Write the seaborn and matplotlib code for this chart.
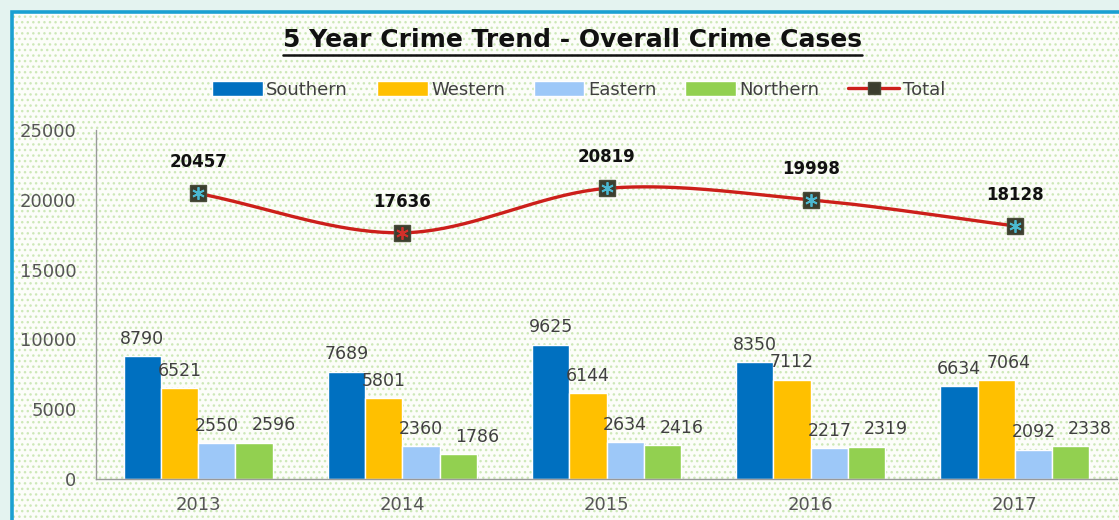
import numpy as np
import pandas as pd
import matplotlib
matplotlib.use("Agg")
import matplotlib.pyplot as plt
import matplotlib.patches as mpatches
from matplotlib.lines import Line2D
import seaborn as sns

years = ["2013", "2014", "2015", "2016", "2017"]
regions = ["Southern", "Western", "Eastern", "Northern"]
southern = [8790, 7689, 9625, 8350, 6634]
western = [6521, 5801, 6144, 7112, 7064]
eastern = [2550, 2360, 2634, 2217, 2092]
northern = [2596, 1786, 2416, 2319, 2338]
total = [20457, 17636, 20819, 19998, 18128]

colors = {"Southern": "#0070c0", "Western": "#ffc000",
          "Eastern": "#9dc8f8", "Northern": "#92d050"}

df = pd.DataFrame({
    "year": years * 4,
    "region": np.repeat(regions, len(years)),
    "cases": southern + western + eastern + northern,
})


def catmull_rom(x, y, n=40):
    # smooth curve through the points, like Excel's smoothed line
    x = np.asarray(x, float)
    y = np.asarray(y, float)
    px = np.concatenate([[2 * x[0] - x[1]], x, [2 * x[-1] - x[-2]]])
    py = np.concatenate([[2 * y[0] - y[1]], y, [2 * y[-1] - y[-2]]])
    xs, ys = [], []
    for i in range(1, len(px) - 2):
        t = np.linspace(0, 1, n)
        for p, out in ((px, xs), (py, ys)):
            p0, p1, p2, p3 = p[i - 1], p[i], p[i + 1], p[i + 2]
            out.append(0.5 * ((2 * p1) + (-p0 + p2) * t
                              + (2 * p0 - 5 * p1 + 4 * p2 - p3) * t ** 2
                              + (-p0 + 3 * p1 - 3 * p2 + p3) * t ** 3))
    return np.concatenate(xs), np.concatenate(ys)


sns.set_style("white")
plt.rcParams["font.family"] = ["DejaVu Sans"]

fig = plt.figure(figsize=(11.19, 5.2), dpi=100)
fig.patch.set_facecolor("#e4f3f0")

# dotted panel and blue frame
panel = mpatches.Rectangle((12 / 1119, 0), 1.0, 1 - 12 / 520, transform=fig.transFigure,
                           facecolor="#fcfdf9", edgecolor="#cde8b8", hatch="...",
                           linewidth=0, zorder=0)
fig.add_artist(panel)
frame = mpatches.Rectangle((12 / 1119, -0.05), 1.05, 1.05 - 12 / 520, transform=fig.transFigure,
                           facecolor="none", edgecolor="#1aa0d2", linewidth=2.6, zorder=1)
fig.add_artist(frame)

ax = fig.add_axes([96 / 1119, 41 / 520, 1021 / 1119, 349 / 520])
ax.set_facecolor("none")

sns.barplot(data=df, x="year", y="cases", hue="region", palette=colors,
            width=0.73, saturation=1, errorbar=None, ax=ax, legend=False, zorder=2)

for i, cont in enumerate(ax.containers):
    labels = ax.bar_label(cont, fmt="%d", padding=6, fontsize=12.5, color="#404040")
    if i == 3:
        # Northern labels sit a little to the right, as in the original
        for lab in labels:
            lab.xyann = (14, 6)
    if i == 1:
        # 2017 Western label nudged right to clear the Southern one
        labels[-1].xyann = (9, 6)

xs = np.arange(len(years))
cx, cy = catmull_rom(xs, total)
ax.plot(cx, cy, color="#cc1f1a", linewidth=2.4, zorder=3)
ax.plot(xs, total, linestyle="none", marker="s", markersize=11,
        markerfacecolor="#3b3d2e", markeredgecolor="#4a4d3a", zorder=4)
star_colors = ["#4bb8d0", "#d0302a", "#4bb8d0", "#4bb8d0", "#4bb8d0"]
for x, t, c in zip(xs, total, star_colors):
    ax.plot(x, t, linestyle="none", marker=(6, 2, 0), markersize=9,
            markeredgecolor=c, markeredgewidth=1.3, zorder=5)
    ax.annotate(f"{t}", (x, t), xytext=(0, 16), textcoords="offset points",
                ha="center", va="bottom", fontsize=12, fontweight="bold", color="#111111")

ax.set_ylim(0, 25000)
ax.set_xlim(-0.5, 4.5)
ax.set_yticks(range(0, 25001, 5000))
ax.set_xlabel("")
ax.set_ylabel("")
ax.tick_params(axis="y", length=0, pad=14, labelsize=13, labelcolor="#555555")
ax.tick_params(axis="x", length=0, pad=12, labelsize=13, labelcolor="#555555")
for s in ["top", "right"]:
    ax.spines[s].set_visible(False)
for s in ["left", "bottom"]:
    ax.spines[s].set_color("#9a9a9a")
    ax.spines[s].set_linewidth(1)

# title with underline
title = fig.text(0.512, 1 - 40 / 520, "5 Year Crime Trend - Overall Crime Cases",
                 ha="center", va="center", fontsize=18, fontweight="bold", color="#111111")
fig.canvas.draw()
bb = title.get_window_extent(fig.canvas.get_renderer()).transformed(fig.transFigure.inverted())
fig.add_artist(Line2D([bb.x0, bb.x1], [bb.y0 - 0.006, bb.y0 - 0.006],
                      transform=fig.transFigure, color="#111111", linewidth=1.8))

handles = [mpatches.Patch(facecolor=colors[r], label=r) for r in regions]
handles.append(Line2D([0], [0], color="#cc1f1a", linewidth=2.4, marker="s", markersize=9,
                      markerfacecolor="#3b3d2e", markeredgecolor="#4a4d3a", label="Total"))
fig.legend(handles=handles, loc="center", bbox_to_anchor=(0.517, 1 - 90 / 520), ncol=5,
           frameon=False, fontsize=13, handlelength=2.8, handleheight=0.9,
           handletextpad=0.2, columnspacing=1.6, labelcolor="#404040")

fig.savefig("out.png", dpi=100, facecolor=fig.get_facecolor())
